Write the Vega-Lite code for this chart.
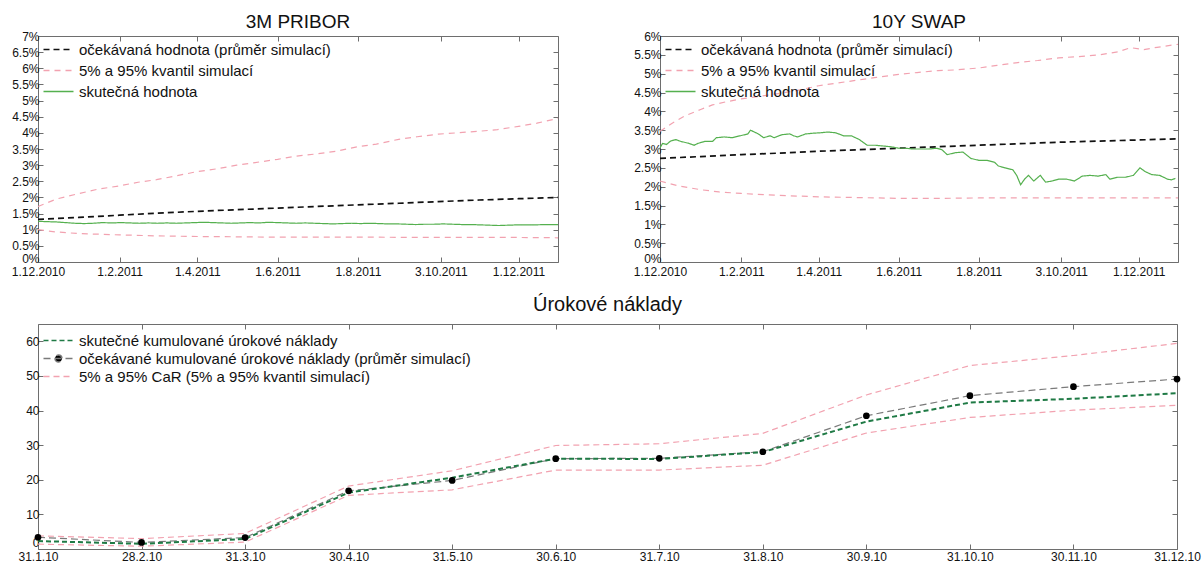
{
  "$schema": "https://vega.github.io/schema/vega-lite/v6.json",
  "padding": {"left": 10, "top": 12, "right": 5, "bottom": 0},
  "bounds": "full",
  "spacing": 16,
  "datasets": {
    "pribor": [
      {"d":"2010-12-01","s":"q","l":"up","v":1.72},{"d":"2010-12-15","s":"q","l":"up","v":1.95},{"d":"2011-01-01","s":"q","l":"up","v":2.12},{"d":"2011-01-15","s":"q","l":"up","v":2.25},{"d":"2011-02-01","s":"q","l":"up","v":2.36},{"d":"2011-02-15","s":"q","l":"up","v":2.47},{"d":"2011-03-01","s":"q","l":"up","v":2.55},{"d":"2011-03-15","s":"q","l":"up","v":2.66},{"d":"2011-04-01","s":"q","l":"up","v":2.8},{"d":"2011-04-15","s":"q","l":"up","v":2.88},{"d":"2011-05-01","s":"q","l":"up","v":3.0},{"d":"2011-05-15","s":"q","l":"up","v":3.08},{"d":"2011-06-01","s":"q","l":"up","v":3.18},{"d":"2011-06-15","s":"q","l":"up","v":3.28},{"d":"2011-07-01","s":"q","l":"up","v":3.35},{"d":"2011-07-15","s":"q","l":"up","v":3.43},{"d":"2011-08-01","s":"q","l":"up","v":3.57},{"d":"2011-08-15","s":"q","l":"up","v":3.65},{"d":"2011-09-01","s":"q","l":"up","v":3.8},{"d":"2011-09-15","s":"q","l":"up","v":3.88},{"d":"2011-10-01","s":"q","l":"up","v":3.96},{"d":"2011-10-15","s":"q","l":"up","v":4.0},{"d":"2011-11-01","s":"q","l":"up","v":4.05},{"d":"2011-11-15","s":"q","l":"up","v":4.1},{"d":"2011-12-01","s":"q","l":"up","v":4.2},{"d":"2011-12-15","s":"q","l":"up","v":4.3},{"d":"2011-12-31","s":"q","l":"up","v":4.45},
      {"d":"2010-12-01","s":"q","l":"lo","v":1.0},{"d":"2010-12-15","s":"q","l":"lo","v":0.93},{"d":"2011-01-01","s":"q","l":"lo","v":0.88},{"d":"2011-02-01","s":"q","l":"lo","v":0.84},{"d":"2011-03-01","s":"q","l":"lo","v":0.81},{"d":"2011-04-01","s":"q","l":"lo","v":0.79},{"d":"2011-05-01","s":"q","l":"lo","v":0.78},{"d":"2011-06-01","s":"q","l":"lo","v":0.77},{"d":"2011-08-01","s":"q","l":"lo","v":0.77},{"d":"2011-10-01","s":"q","l":"lo","v":0.76},{"d":"2011-12-01","s":"q","l":"lo","v":0.76},{"d":"2011-12-31","s":"q","l":"lo","v":0.75},
      {"d":"2010-12-01","s":"e","l":"e","v":1.32},{"d":"2011-01-01","s":"e","l":"e","v":1.38},{"d":"2011-02-01","s":"e","l":"e","v":1.45},{"d":"2011-03-01","s":"e","l":"e","v":1.51},{"d":"2011-04-01","s":"e","l":"e","v":1.57},{"d":"2011-05-01","s":"e","l":"e","v":1.62},{"d":"2011-06-01","s":"e","l":"e","v":1.67},{"d":"2011-07-01","s":"e","l":"e","v":1.72},{"d":"2011-08-01","s":"e","l":"e","v":1.77},{"d":"2011-09-01","s":"e","l":"e","v":1.82},{"d":"2011-10-01","s":"e","l":"e","v":1.87},{"d":"2011-11-01","s":"e","l":"e","v":1.92},{"d":"2011-12-01","s":"e","l":"e","v":1.96},{"d":"2011-12-31","s":"e","l":"e","v":2.0},
      {"d":"2010-12-01","s":"a","l":"a","v":1.26},{"d":"2010-12-08","s":"a","l":"a","v":1.25},{"d":"2010-12-15","s":"a","l":"a","v":1.24},{"d":"2010-12-22","s":"a","l":"a","v":1.22},{"d":"2010-12-29","s":"a","l":"a","v":1.2},{"d":"2011-01-05","s":"a","l":"a","v":1.19},{"d":"2011-01-12","s":"a","l":"a","v":1.2},{"d":"2011-01-19","s":"a","l":"a","v":1.22},{"d":"2011-01-26","s":"a","l":"a","v":1.21},{"d":"2011-02-02","s":"a","l":"a","v":1.22},{"d":"2011-02-09","s":"a","l":"a","v":1.21},{"d":"2011-02-16","s":"a","l":"a","v":1.2},{"d":"2011-02-23","s":"a","l":"a","v":1.21},{"d":"2011-03-02","s":"a","l":"a","v":1.2},{"d":"2011-03-09","s":"a","l":"a","v":1.21},{"d":"2011-03-16","s":"a","l":"a","v":1.2},{"d":"2011-03-23","s":"a","l":"a","v":1.21},{"d":"2011-03-30","s":"a","l":"a","v":1.22},{"d":"2011-04-06","s":"a","l":"a","v":1.23},{"d":"2011-04-13","s":"a","l":"a","v":1.22},{"d":"2011-04-20","s":"a","l":"a","v":1.21},{"d":"2011-04-27","s":"a","l":"a","v":1.2},{"d":"2011-05-04","s":"a","l":"a","v":1.21},{"d":"2011-05-11","s":"a","l":"a","v":1.22},{"d":"2011-05-18","s":"a","l":"a","v":1.21},{"d":"2011-05-25","s":"a","l":"a","v":1.23},{"d":"2011-06-01","s":"a","l":"a","v":1.22},{"d":"2011-06-08","s":"a","l":"a","v":1.21},{"d":"2011-06-15","s":"a","l":"a","v":1.2},{"d":"2011-06-22","s":"a","l":"a","v":1.21},{"d":"2011-06-29","s":"a","l":"a","v":1.2},{"d":"2011-07-06","s":"a","l":"a","v":1.19},{"d":"2011-07-13","s":"a","l":"a","v":1.18},{"d":"2011-07-20","s":"a","l":"a","v":1.19},{"d":"2011-07-27","s":"a","l":"a","v":1.2},{"d":"2011-08-03","s":"a","l":"a","v":1.19},{"d":"2011-08-10","s":"a","l":"a","v":1.2},{"d":"2011-08-17","s":"a","l":"a","v":1.19},{"d":"2011-08-24","s":"a","l":"a","v":1.18},{"d":"2011-08-31","s":"a","l":"a","v":1.18},{"d":"2011-09-07","s":"a","l":"a","v":1.17},{"d":"2011-09-14","s":"a","l":"a","v":1.16},{"d":"2011-09-21","s":"a","l":"a","v":1.17},{"d":"2011-09-28","s":"a","l":"a","v":1.17},{"d":"2011-10-05","s":"a","l":"a","v":1.18},{"d":"2011-10-12","s":"a","l":"a","v":1.17},{"d":"2011-10-19","s":"a","l":"a","v":1.16},{"d":"2011-10-26","s":"a","l":"a","v":1.16},{"d":"2011-11-02","s":"a","l":"a","v":1.15},{"d":"2011-11-09","s":"a","l":"a","v":1.14},{"d":"2011-11-16","s":"a","l":"a","v":1.13},{"d":"2011-11-23","s":"a","l":"a","v":1.14},{"d":"2011-11-30","s":"a","l":"a","v":1.15},{"d":"2011-12-07","s":"a","l":"a","v":1.15},{"d":"2011-12-14","s":"a","l":"a","v":1.15},{"d":"2011-12-21","s":"a","l":"a","v":1.16},{"d":"2011-12-31","s":"a","l":"a","v":1.16}
    ],
    "swap": [
      {"d":"2010-12-01","s":"q","l":"up","v":3.47},{"d":"2010-12-10","s":"q","l":"up","v":3.68},{"d":"2010-12-20","s":"q","l":"up","v":3.88},{"d":"2011-01-01","s":"q","l":"up","v":4.05},{"d":"2011-01-10","s":"q","l":"up","v":4.17},{"d":"2011-01-20","s":"q","l":"up","v":4.25},{"d":"2011-02-01","s":"q","l":"up","v":4.33},{"d":"2011-02-15","s":"q","l":"up","v":4.4},{"d":"2011-03-01","s":"q","l":"up","v":4.47},{"d":"2011-03-15","s":"q","l":"up","v":4.55},{"d":"2011-04-01","s":"q","l":"up","v":4.68},{"d":"2011-04-15","s":"q","l":"up","v":4.75},{"d":"2011-05-01","s":"q","l":"up","v":4.83},{"d":"2011-05-15","s":"q","l":"up","v":4.9},{"d":"2011-06-01","s":"q","l":"up","v":4.98},{"d":"2011-06-15","s":"q","l":"up","v":5.03},{"d":"2011-07-01","s":"q","l":"up","v":5.08},{"d":"2011-07-15","s":"q","l":"up","v":5.1},{"d":"2011-08-01","s":"q","l":"up","v":5.15},{"d":"2011-08-15","s":"q","l":"up","v":5.22},{"d":"2011-09-01","s":"q","l":"up","v":5.3},{"d":"2011-09-15","s":"q","l":"up","v":5.35},{"d":"2011-10-01","s":"q","l":"up","v":5.42},{"d":"2011-10-15","s":"q","l":"up","v":5.45},{"d":"2011-11-01","s":"q","l":"up","v":5.5},{"d":"2011-11-15","s":"q","l":"up","v":5.58},{"d":"2011-11-25","s":"q","l":"up","v":5.69},{"d":"2011-12-05","s":"q","l":"up","v":5.64},{"d":"2011-12-15","s":"q","l":"up","v":5.7},{"d":"2011-12-31","s":"q","l":"up","v":5.78},
      {"d":"2010-12-01","s":"q","l":"lo","v":2.15},{"d":"2010-12-15","s":"q","l":"lo","v":2.02},{"d":"2011-01-01","s":"q","l":"lo","v":1.92},{"d":"2011-01-15","s":"q","l":"lo","v":1.86},{"d":"2011-02-01","s":"q","l":"lo","v":1.82},{"d":"2011-03-01","s":"q","l":"lo","v":1.77},{"d":"2011-04-01","s":"q","l":"lo","v":1.73},{"d":"2011-05-01","s":"q","l":"lo","v":1.71},{"d":"2011-06-01","s":"q","l":"lo","v":1.69},{"d":"2011-07-01","s":"q","l":"lo","v":1.69},{"d":"2011-08-01","s":"q","l":"lo","v":1.7},{"d":"2011-09-01","s":"q","l":"lo","v":1.7},{"d":"2011-10-01","s":"q","l":"lo","v":1.7},{"d":"2011-11-01","s":"q","l":"lo","v":1.7},{"d":"2011-12-01","s":"q","l":"lo","v":1.7},{"d":"2011-12-31","s":"q","l":"lo","v":1.7},
      {"d":"2010-12-01","s":"e","l":"e","v":2.75},{"d":"2011-01-01","s":"e","l":"e","v":2.8},{"d":"2011-02-01","s":"e","l":"e","v":2.85},{"d":"2011-03-01","s":"e","l":"e","v":2.89},{"d":"2011-04-01","s":"e","l":"e","v":2.94},{"d":"2011-05-01","s":"e","l":"e","v":2.98},{"d":"2011-06-01","s":"e","l":"e","v":3.02},{"d":"2011-07-01","s":"e","l":"e","v":3.06},{"d":"2011-08-01","s":"e","l":"e","v":3.1},{"d":"2011-09-01","s":"e","l":"e","v":3.14},{"d":"2011-10-01","s":"e","l":"e","v":3.18},{"d":"2011-11-01","s":"e","l":"e","v":3.21},{"d":"2011-12-01","s":"e","l":"e","v":3.24},{"d":"2011-12-31","s":"e","l":"e","v":3.27},
      {"d":"2010-12-01","s":"a","l":"a","v":3.03},{"d":"2010-12-03","s":"a","l":"a","v":3.15},{"d":"2010-12-06","s":"a","l":"a","v":3.12},{"d":"2010-12-09","s":"a","l":"a","v":3.21},{"d":"2010-12-13","s":"a","l":"a","v":3.25},{"d":"2010-12-17","s":"a","l":"a","v":3.2},{"d":"2010-12-23","s":"a","l":"a","v":3.15},{"d":"2010-12-27","s":"a","l":"a","v":3.1},{"d":"2010-12-30","s":"a","l":"a","v":3.15},{"d":"2011-01-04","s":"a","l":"a","v":3.2},{"d":"2011-01-10","s":"a","l":"a","v":3.2},{"d":"2011-01-13","s":"a","l":"a","v":3.3},{"d":"2011-01-19","s":"a","l":"a","v":3.32},{"d":"2011-01-25","s":"a","l":"a","v":3.3},{"d":"2011-01-31","s":"a","l":"a","v":3.35},{"d":"2011-02-06","s":"a","l":"a","v":3.4},{"d":"2011-02-08","s":"a","l":"a","v":3.5},{"d":"2011-02-11","s":"a","l":"a","v":3.45},{"d":"2011-02-14","s":"a","l":"a","v":3.4},{"d":"2011-02-18","s":"a","l":"a","v":3.3},{"d":"2011-02-23","s":"a","l":"a","v":3.35},{"d":"2011-02-26","s":"a","l":"a","v":3.3},{"d":"2011-03-04","s":"a","l":"a","v":3.38},{"d":"2011-03-10","s":"a","l":"a","v":3.4},{"d":"2011-03-13","s":"a","l":"a","v":3.35},{"d":"2011-03-16","s":"a","l":"a","v":3.32},{"d":"2011-03-22","s":"a","l":"a","v":3.4},{"d":"2011-03-28","s":"a","l":"a","v":3.42},{"d":"2011-04-02","s":"a","l":"a","v":3.43},{"d":"2011-04-08","s":"a","l":"a","v":3.45},{"d":"2011-04-14","s":"a","l":"a","v":3.43},{"d":"2011-04-20","s":"a","l":"a","v":3.35},{"d":"2011-04-26","s":"a","l":"a","v":3.35},{"d":"2011-05-02","s":"a","l":"a","v":3.25},{"d":"2011-05-08","s":"a","l":"a","v":3.1},{"d":"2011-05-14","s":"a","l":"a","v":3.1},{"d":"2011-05-20","s":"a","l":"a","v":3.08},{"d":"2011-05-26","s":"a","l":"a","v":3.06},{"d":"2011-06-01","s":"a","l":"a","v":3.02},{"d":"2011-06-06","s":"a","l":"a","v":3.02},{"d":"2011-06-12","s":"a","l":"a","v":3.0},{"d":"2011-06-18","s":"a","l":"a","v":3.0},{"d":"2011-06-24","s":"a","l":"a","v":3.0},{"d":"2011-06-30","s":"a","l":"a","v":3.02},{"d":"2011-07-04","s":"a","l":"a","v":2.98},{"d":"2011-07-08","s":"a","l":"a","v":2.85},{"d":"2011-07-14","s":"a","l":"a","v":2.9},{"d":"2011-07-20","s":"a","l":"a","v":2.92},{"d":"2011-07-26","s":"a","l":"a","v":2.75},{"d":"2011-08-01","s":"a","l":"a","v":2.7},{"d":"2011-08-07","s":"a","l":"a","v":2.7},{"d":"2011-08-13","s":"a","l":"a","v":2.65},{"d":"2011-08-16","s":"a","l":"a","v":2.55},{"d":"2011-08-21","s":"a","l":"a","v":2.5},{"d":"2011-08-27","s":"a","l":"a","v":2.45},{"d":"2011-08-30","s":"a","l":"a","v":2.3},{"d":"2011-09-02","s":"a","l":"a","v":2.05},{"d":"2011-09-05","s":"a","l":"a","v":2.2},{"d":"2011-09-08","s":"a","l":"a","v":2.3},{"d":"2011-09-12","s":"a","l":"a","v":2.15},{"d":"2011-09-17","s":"a","l":"a","v":2.3},{"d":"2011-09-21","s":"a","l":"a","v":2.12},{"d":"2011-09-26","s":"a","l":"a","v":2.15},{"d":"2011-10-01","s":"a","l":"a","v":2.2},{"d":"2011-10-07","s":"a","l":"a","v":2.2},{"d":"2011-10-13","s":"a","l":"a","v":2.15},{"d":"2011-10-19","s":"a","l":"a","v":2.28},{"d":"2011-10-25","s":"a","l":"a","v":2.3},{"d":"2011-10-31","s":"a","l":"a","v":2.28},{"d":"2011-11-06","s":"a","l":"a","v":2.32},{"d":"2011-11-09","s":"a","l":"a","v":2.2},{"d":"2011-11-15","s":"a","l":"a","v":2.25},{"d":"2011-11-21","s":"a","l":"a","v":2.25},{"d":"2011-11-27","s":"a","l":"a","v":2.3},{"d":"2011-12-02","s":"a","l":"a","v":2.5},{"d":"2011-12-06","s":"a","l":"a","v":2.4},{"d":"2011-12-11","s":"a","l":"a","v":2.32},{"d":"2011-12-17","s":"a","l":"a","v":2.3},{"d":"2011-12-23","s":"a","l":"a","v":2.2},{"d":"2011-12-26","s":"a","l":"a","v":2.18},{"d":"2011-12-29","s":"a","l":"a","v":2.22}
    ],
    "naklady": [
      {"m":"31.1.10","s":"q","l":"up","v":3.8},{"m":"28.2.10","s":"q","l":"up","v":3.0},{"m":"31.3.10","s":"q","l":"up","v":4.5},{"m":"30.4.10","s":"q","l":"up","v":18.2},{"m":"31.5.10","s":"q","l":"up","v":22.6},{"m":"30.6.10","s":"q","l":"up","v":29.9},{"m":"31.7.10","s":"q","l":"up","v":30.4},{"m":"31.8.10","s":"q","l":"up","v":33.4},{"m":"30.9.10","s":"q","l":"up","v":44.5},{"m":"31.10.10","s":"q","l":"up","v":53.0},{"m":"30.11.10","s":"q","l":"up","v":55.9},{"m":"31.12.10","s":"q","l":"up","v":59.4},
      {"m":"31.1.10","s":"q","l":"lo","v":1.4},{"m":"28.2.10","s":"q","l":"lo","v":0.8},{"m":"31.3.10","s":"q","l":"lo","v":2.0},{"m":"30.4.10","s":"q","l":"lo","v":15.5},{"m":"31.5.10","s":"q","l":"lo","v":17.1},{"m":"30.6.10","s":"q","l":"lo","v":22.8},{"m":"31.7.10","s":"q","l":"lo","v":22.8},{"m":"31.8.10","s":"q","l":"lo","v":24.2},{"m":"30.9.10","s":"q","l":"lo","v":33.5},{"m":"31.10.10","s":"q","l":"lo","v":38.0},{"m":"30.11.10","s":"q","l":"lo","v":40.1},{"m":"31.12.10","s":"q","l":"lo","v":41.5},
      {"m":"31.1.10","s":"a","l":"a","v":2.3},{"m":"28.2.10","s":"a","l":"a","v":1.5},{"m":"31.3.10","s":"a","l":"a","v":2.9},{"m":"30.4.10","s":"a","l":"a","v":16.3},{"m":"31.5.10","s":"a","l":"a","v":20.6},{"m":"30.6.10","s":"a","l":"a","v":26.1},{"m":"31.7.10","s":"a","l":"a","v":26.0},{"m":"31.8.10","s":"a","l":"a","v":28.0},{"m":"30.9.10","s":"a","l":"a","v":36.8},{"m":"31.10.10","s":"a","l":"a","v":42.3},{"m":"30.11.10","s":"a","l":"a","v":43.4},{"m":"31.12.10","s":"a","l":"a","v":45.0},
      {"m":"31.1.10","s":"e","l":"e","v":3.4},{"m":"28.2.10","s":"e","l":"e","v":1.9},{"m":"31.3.10","s":"e","l":"e","v":3.3},{"m":"30.4.10","s":"e","l":"e","v":16.8},{"m":"31.5.10","s":"e","l":"e","v":19.8},{"m":"30.6.10","s":"e","l":"e","v":26.1},{"m":"31.7.10","s":"e","l":"e","v":26.2},{"m":"31.8.10","s":"e","l":"e","v":28.1},{"m":"30.9.10","s":"e","l":"e","v":38.5},{"m":"31.10.10","s":"e","l":"e","v":44.3},{"m":"30.11.10","s":"e","l":"e","v":46.9},{"m":"31.12.10","s":"e","l":"e","v":49.1}
    ]
  },
  "vconcat": [
    {
      "bounds": "flush",
      "spacing": 102,
      "hconcat": [
        {
          "width": 520, "height": 226,
          "title": {"text": "3M PRIBOR"},
          "data": {"name": "pribor"},
          "layer": [
            {"transform": [{"filter": "datum.s === 'q'"}], "mark": {"type": "line", "strokeWidth": 1.2},
             "encoding": {
               "x": {"field": "d", "type": "temporal", "scale": {"type": "utc", "domain": [{"year":2010,"month":12,"date":1,"utc":true},{"year":2011,"month":12,"date":31,"utc":true}]}, "axis": {"orient": "bottom", "labelPadding": 9, "format": "%-d.%-m.%Y", "values": [{"year":2010,"month":12,"date":1,"utc":true},{"year":2011,"month":2,"date":1,"utc":true},{"year":2011,"month":4,"date":1,"utc":true},{"year":2011,"month":6,"date":1,"utc":true},{"year":2011,"month":8,"date":1,"utc":true},{"year":2011,"month":10,"date":3,"utc":true},{"year":2011,"month":12,"date":1,"utc":true}]}},
               "y": {"field": "v", "type": "quantitative", "scale": {"domain": [0, 7]}, "axis": {"orient": "left", "values": [0,0.5,1,1.5,2,2.5,3,3.5,4,4.5,5,5.5,6,6.5,7], "labelExpr": "datum.value + '%'", "labelBaseline": {"condition": {"test": "datum.value === 0", "value": "alphabetic"}, "value": "middle"}}},
               "color": {"field": "s", "type": "nominal", "scale": {"domain": ["e","q","a"], "range": ["#111111","#f2a2b0","#55b04f"]}, "legend": {"title": null, "orient": "none", "legendX": 3, "legendY": 6, "rowPadding": 5, "labelExpr": "datum.value === 'e' ? 'očekávaná hodnota (průměr simulací)' : datum.value === 'q' ? '5% a 95% kvantil simulací' : 'skutečná hodnota'"}},
               "strokeDash": {"field": "s", "type": "nominal", "scale": {"domain": ["e","q","a"], "range": [[6,4],[6,5],[1,0]]}, "legend": {"title": null, "orient": "none", "legendX": 3, "legendY": 6, "rowPadding": 5, "labelExpr": "datum.value === 'e' ? 'očekávaná hodnota (průměr simulací)' : datum.value === 'q' ? '5% a 95% kvantil simulací' : 'skutečná hodnota'"}},
               "detail": {"field": "l"}
             }},
            {"transform": [{"filter": "datum.s === 'e'"}], "mark": {"type": "line", "strokeWidth": 1.7},
             "encoding": {
               "x": {"field": "d", "type": "temporal", "axis": null},
               "y": {"field": "v", "type": "quantitative", "axis": null},
               "color": {"field": "s", "type": "nominal", "scale": {"domain": ["e","q","a"], "range": ["#111111","#f2a2b0","#55b04f"]}, "legend": {"title": null, "orient": "none", "legendX": 3, "legendY": 6, "rowPadding": 5, "labelExpr": "datum.value === 'e' ? 'očekávaná hodnota (průměr simulací)' : datum.value === 'q' ? '5% a 95% kvantil simulací' : 'skutečná hodnota'"}},
               "strokeDash": {"field": "s", "type": "nominal", "scale": {"domain": ["e","q","a"], "range": [[6,4],[6,5],[1,0]]}, "legend": {"title": null, "orient": "none", "legendX": 3, "legendY": 6, "rowPadding": 5, "labelExpr": "datum.value === 'e' ? 'očekávaná hodnota (průměr simulací)' : datum.value === 'q' ? '5% a 95% kvantil simulací' : 'skutečná hodnota'"}}
             }},
            {"transform": [{"filter": "datum.s === 'a'"}], "mark": {"type": "line", "strokeWidth": 1.2},
             "encoding": {
               "x": {"field": "d", "type": "temporal", "axis": null},
               "y": {"field": "v", "type": "quantitative", "axis": null},
               "color": {"field": "s", "type": "nominal", "scale": {"domain": ["e","q","a"], "range": ["#111111","#f2a2b0","#55b04f"]}, "legend": {"title": null, "orient": "none", "legendX": 3, "legendY": 6, "rowPadding": 5, "labelExpr": "datum.value === 'e' ? 'očekávaná hodnota (průměr simulací)' : datum.value === 'q' ? '5% a 95% kvantil simulací' : 'skutečná hodnota'"}},
               "strokeDash": {"field": "s", "type": "nominal", "scale": {"domain": ["e","q","a"], "range": [[6,4],[6,5],[1,0]]}, "legend": {"title": null, "orient": "none", "legendX": 3, "legendY": 6, "rowPadding": 5, "labelExpr": "datum.value === 'e' ? 'očekávaná hodnota (průměr simulací)' : datum.value === 'q' ? '5% a 95% kvantil simulací' : 'skutečná hodnota'"}}
             }},
            {"mark": {"type": "line", "opacity": 0},
             "encoding": {
               "x": {"field": "d", "type": "temporal", "axis": {"orient": "top", "labels": false, "values": [{"year":2010,"month":12,"date":1,"utc":true},{"year":2011,"month":2,"date":1,"utc":true},{"year":2011,"month":4,"date":1,"utc":true},{"year":2011,"month":6,"date":1,"utc":true},{"year":2011,"month":8,"date":1,"utc":true},{"year":2011,"month":10,"date":3,"utc":true},{"year":2011,"month":12,"date":1,"utc":true}]}},
               "y": {"field": "v", "type": "quantitative", "axis": {"orient": "right", "labels": false, "values": [0,0.5,1,1.5,2,2.5,3,3.5,4,4.5,5,5.5,6,6.5,7]}},
               "detail": {"field": "l"}
             }}
          ],
          "resolve": {"axis": {"x": "independent", "y": "independent"}}
        },
        {
          "width": 518, "height": 226,
          "title": {"text": "10Y SWAP"},
          "data": {"name": "swap"},
          "layer": [
            {"transform": [{"filter": "datum.s === 'q'"}], "mark": {"type": "line", "strokeWidth": 1.2},
             "encoding": {
               "x": {"field": "d", "type": "temporal", "scale": {"type": "utc", "domain": [{"year":2010,"month":12,"date":1,"utc":true},{"year":2011,"month":12,"date":31,"utc":true}]}, "axis": {"orient": "bottom", "labelPadding": 9, "format": "%-d.%-m.%Y", "values": [{"year":2010,"month":12,"date":1,"utc":true},{"year":2011,"month":2,"date":1,"utc":true},{"year":2011,"month":4,"date":1,"utc":true},{"year":2011,"month":6,"date":1,"utc":true},{"year":2011,"month":8,"date":1,"utc":true},{"year":2011,"month":10,"date":3,"utc":true},{"year":2011,"month":12,"date":1,"utc":true}]}},
               "y": {"field": "v", "type": "quantitative", "scale": {"domain": [0, 6]}, "axis": {"orient": "left", "values": [0,0.5,1,1.5,2,2.5,3,3.5,4,4.5,5,5.5,6], "labelExpr": "datum.value + '%'", "labelBaseline": {"condition": {"test": "datum.value === 0", "value": "alphabetic"}, "value": "middle"}}},
               "color": {"field": "s", "type": "nominal", "scale": {"domain": ["e","q","a"], "range": ["#111111","#f2a2b0","#55b04f"]}, "legend": {"title": null, "orient": "none", "legendX": 3, "legendY": 6, "rowPadding": 5, "labelExpr": "datum.value === 'e' ? 'očekávaná hodnota (průměr simulací)' : datum.value === 'q' ? '5% a 95% kvantil simulací' : 'skutečná hodnota'"}},
               "strokeDash": {"field": "s", "type": "nominal", "scale": {"domain": ["e","q","a"], "range": [[6,4],[6,5],[1,0]]}, "legend": {"title": null, "orient": "none", "legendX": 3, "legendY": 6, "rowPadding": 5, "labelExpr": "datum.value === 'e' ? 'očekávaná hodnota (průměr simulací)' : datum.value === 'q' ? '5% a 95% kvantil simulací' : 'skutečná hodnota'"}},
               "detail": {"field": "l"}
             }},
            {"transform": [{"filter": "datum.s === 'e'"}], "mark": {"type": "line", "strokeWidth": 1.7},
             "encoding": {
               "x": {"field": "d", "type": "temporal", "axis": null},
               "y": {"field": "v", "type": "quantitative", "axis": null},
               "color": {"field": "s", "type": "nominal", "scale": {"domain": ["e","q","a"], "range": ["#111111","#f2a2b0","#55b04f"]}, "legend": {"title": null, "orient": "none", "legendX": 3, "legendY": 6, "rowPadding": 5, "labelExpr": "datum.value === 'e' ? 'očekávaná hodnota (průměr simulací)' : datum.value === 'q' ? '5% a 95% kvantil simulací' : 'skutečná hodnota'"}},
               "strokeDash": {"field": "s", "type": "nominal", "scale": {"domain": ["e","q","a"], "range": [[6,4],[6,5],[1,0]]}, "legend": {"title": null, "orient": "none", "legendX": 3, "legendY": 6, "rowPadding": 5, "labelExpr": "datum.value === 'e' ? 'očekávaná hodnota (průměr simulací)' : datum.value === 'q' ? '5% a 95% kvantil simulací' : 'skutečná hodnota'"}}
             }},
            {"transform": [{"filter": "datum.s === 'a'"}], "mark": {"type": "line", "strokeWidth": 1.2},
             "encoding": {
               "x": {"field": "d", "type": "temporal", "axis": null},
               "y": {"field": "v", "type": "quantitative", "axis": null},
               "color": {"field": "s", "type": "nominal", "scale": {"domain": ["e","q","a"], "range": ["#111111","#f2a2b0","#55b04f"]}, "legend": {"title": null, "orient": "none", "legendX": 3, "legendY": 6, "rowPadding": 5, "labelExpr": "datum.value === 'e' ? 'očekávaná hodnota (průměr simulací)' : datum.value === 'q' ? '5% a 95% kvantil simulací' : 'skutečná hodnota'"}},
               "strokeDash": {"field": "s", "type": "nominal", "scale": {"domain": ["e","q","a"], "range": [[6,4],[6,5],[1,0]]}, "legend": {"title": null, "orient": "none", "legendX": 3, "legendY": 6, "rowPadding": 5, "labelExpr": "datum.value === 'e' ? 'očekávaná hodnota (průměr simulací)' : datum.value === 'q' ? '5% a 95% kvantil simulací' : 'skutečná hodnota'"}}
             }},
            {"mark": {"type": "line", "opacity": 0},
             "encoding": {
               "x": {"field": "d", "type": "temporal", "axis": {"orient": "top", "labels": false, "values": [{"year":2010,"month":12,"date":1,"utc":true},{"year":2011,"month":2,"date":1,"utc":true},{"year":2011,"month":4,"date":1,"utc":true},{"year":2011,"month":6,"date":1,"utc":true},{"year":2011,"month":8,"date":1,"utc":true},{"year":2011,"month":10,"date":3,"utc":true},{"year":2011,"month":12,"date":1,"utc":true}]}},
               "y": {"field": "v", "type": "quantitative", "axis": {"orient": "right", "labels": false, "values": [0,0.5,1,1.5,2,2.5,3,3.5,4,4.5,5,5.5,6]}},
               "detail": {"field": "l"}
             }}
          ],
          "resolve": {"axis": {"x": "independent", "y": "independent"}}
        }
      ],
      "resolve": {"scale": {"x": "independent", "y": "independent", "color": "independent", "strokeDash": "independent"}, "legend": {"color": "independent", "strokeDash": "independent"}}
    },
    {
      "width": 1139, "height": 225,
      "title": {"text": "Úrokové náklady", "fontSize": 20, "offset": 9, "dy": 0},
      "data": {"name": "naklady"},
      "layer": [
        {"transform": [{"filter": "datum.s === 'q'"}], "mark": {"type": "line", "strokeWidth": 1.2},
         "encoding": {
           "x": {"field": "m", "type": "ordinal", "sort": null, "scale": {"type": "point", "padding": 0, "domain": ["31.1.10","28.2.10","31.3.10","30.4.10","31.5.10","30.6.10","31.7.10","31.8.10","30.9.10","31.10.10","30.11.10","31.12.10"]}, "axis": {"orient": "bottom", "labelAngle": 0, "labelPadding": 7}},
           "y": {"field": "v", "type": "quantitative", "scale": {"domain": [0, 65]}, "axis": {"orient": "left", "values": [0,10,20,30,40,50,60], "labelFlush": true}},
           "color": {"field": "s", "type": "nominal", "scale": {"domain": ["a","e","q"], "range": ["#1f7a45","#7a7a7a","#f2a2b0"]}, "legend": {"title": null, "orient": "none", "legendX": 3, "legendY": 9, "rowPadding": 2, "labelExpr": "datum.value === 'a' ? 'skutečné kumulované úrokové náklady' : datum.value === 'e' ? 'očekávané kumulované úrokové náklady (průměr simulací)' : '5% a 95% CaR (5% a 95% kvantil simulací)'", "encode": {"symbols": {"update": {"shape": {"signal": "datum.value === 'e' ? 'M-1,0L5,0M1.3,0a0.7,0.7 0 1,0 1.4,0a0.7,0.7 0 1,0 -1.4,0' : 'M-1,0L5,0'"}, "fill": {"signal": "datum.value === 'e' ? 'black' : 'transparent'"}}}}}},
           "strokeDash": {"field": "s", "type": "nominal", "scale": {"domain": ["a","e","q"], "range": [[5,3],[7,4],[6,4]]}, "legend": {"title": null, "orient": "none", "legendX": 3, "legendY": 9, "rowPadding": 2, "labelExpr": "datum.value === 'a' ? 'skutečné kumulované úrokové náklady' : datum.value === 'e' ? 'očekávané kumulované úrokové náklady (průměr simulací)' : '5% a 95% CaR (5% a 95% kvantil simulací)'", "encode": {"symbols": {"update": {"shape": {"signal": "datum.value === 'e' ? 'M-1,0L5,0M1.3,0a0.7,0.7 0 1,0 1.4,0a0.7,0.7 0 1,0 -1.4,0' : 'M-1,0L5,0'"}, "fill": {"signal": "datum.value === 'e' ? 'black' : 'transparent'"}}}}}},
           "detail": {"field": "l"}
         }},
        {"transform": [{"filter": "datum.s === 'e'"}], "mark": {"type": "line", "strokeWidth": 1.2},
         "encoding": {
           "x": {"field": "m", "type": "ordinal", "sort": null, "axis": null},
           "y": {"field": "v", "type": "quantitative", "axis": null},
           "color": {"field": "s", "type": "nominal", "scale": {"domain": ["a","e","q"], "range": ["#1f7a45","#7a7a7a","#f2a2b0"]}, "legend": {"title": null, "orient": "none", "legendX": 3, "legendY": 9, "rowPadding": 2, "labelExpr": "datum.value === 'a' ? 'skutečné kumulované úrokové náklady' : datum.value === 'e' ? 'očekávané kumulované úrokové náklady (průměr simulací)' : '5% a 95% CaR (5% a 95% kvantil simulací)'", "encode": {"symbols": {"update": {"shape": {"signal": "datum.value === 'e' ? 'M-1,0L5,0M1.3,0a0.7,0.7 0 1,0 1.4,0a0.7,0.7 0 1,0 -1.4,0' : 'M-1,0L5,0'"}, "fill": {"signal": "datum.value === 'e' ? 'black' : 'transparent'"}}}}}},
           "strokeDash": {"field": "s", "type": "nominal", "scale": {"domain": ["a","e","q"], "range": [[5,3],[7,4],[6,4]]}, "legend": {"title": null, "orient": "none", "legendX": 3, "legendY": 9, "rowPadding": 2, "labelExpr": "datum.value === 'a' ? 'skutečné kumulované úrokové náklady' : datum.value === 'e' ? 'očekávané kumulované úrokové náklady (průměr simulací)' : '5% a 95% CaR (5% a 95% kvantil simulací)'", "encode": {"symbols": {"update": {"shape": {"signal": "datum.value === 'e' ? 'M-1,0L5,0M1.3,0a0.7,0.7 0 1,0 1.4,0a0.7,0.7 0 1,0 -1.4,0' : 'M-1,0L5,0'"}, "fill": {"signal": "datum.value === 'e' ? 'black' : 'transparent'"}}}}}}
         }},
        {"transform": [{"filter": "datum.s === 'a'"}], "mark": {"type": "line", "strokeWidth": 2},
         "encoding": {
           "x": {"field": "m", "type": "ordinal", "sort": null, "axis": null},
           "y": {"field": "v", "type": "quantitative", "axis": null},
           "color": {"field": "s", "type": "nominal", "scale": {"domain": ["a","e","q"], "range": ["#1f7a45","#7a7a7a","#f2a2b0"]}, "legend": {"title": null, "orient": "none", "legendX": 3, "legendY": 9, "rowPadding": 2, "labelExpr": "datum.value === 'a' ? 'skutečné kumulované úrokové náklady' : datum.value === 'e' ? 'očekávané kumulované úrokové náklady (průměr simulací)' : '5% a 95% CaR (5% a 95% kvantil simulací)'", "encode": {"symbols": {"update": {"shape": {"signal": "datum.value === 'e' ? 'M-1,0L5,0M1.3,0a0.7,0.7 0 1,0 1.4,0a0.7,0.7 0 1,0 -1.4,0' : 'M-1,0L5,0'"}, "fill": {"signal": "datum.value === 'e' ? 'black' : 'transparent'"}}}}}},
           "strokeDash": {"field": "s", "type": "nominal", "scale": {"domain": ["a","e","q"], "range": [[5,3],[7,4],[6,4]]}, "legend": {"title": null, "orient": "none", "legendX": 3, "legendY": 9, "rowPadding": 2, "labelExpr": "datum.value === 'a' ? 'skutečné kumulované úrokové náklady' : datum.value === 'e' ? 'očekávané kumulované úrokové náklady (průměr simulací)' : '5% a 95% CaR (5% a 95% kvantil simulací)'", "encode": {"symbols": {"update": {"shape": {"signal": "datum.value === 'e' ? 'M-1,0L5,0M1.3,0a0.7,0.7 0 1,0 1.4,0a0.7,0.7 0 1,0 -1.4,0' : 'M-1,0L5,0'"}, "fill": {"signal": "datum.value === 'e' ? 'black' : 'transparent'"}}}}}}
         }},
        {"transform": [{"filter": "datum.s === 'e'"}], "mark": {"type": "point", "filled": true, "color": "#000000", "size": 45, "opacity": 1},
         "encoding": {
           "x": {"field": "m", "type": "ordinal", "sort": null, "axis": null},
           "y": {"field": "v", "type": "quantitative", "axis": null}
         }},
        {"mark": {"type": "line", "opacity": 0},
         "encoding": {
           "x": {"field": "m", "type": "ordinal", "sort": null, "axis": {"orient": "top", "labels": false}},
           "y": {"field": "v", "type": "quantitative", "axis": {"orient": "right", "labels": false, "values": [0,10,20,30,40,50,60]}},
           "detail": {"field": "l"}
         }}
      ],
      "resolve": {"axis": {"x": "independent", "y": "independent"}}
    }
  ],
  "resolve": {"scale": {"x": "independent", "y": "independent", "color": "independent", "strokeDash": "independent"}, "legend": {"color": "independent", "strokeDash": "independent"}},
  "config": {
    "background": "white",
    "font": "Liberation Sans",
    "view": {"stroke": "#6e6e6e", "strokeWidth": 1},
    "axis": {"labelFont": "Liberation Sans", "labelFontSize": 12, "labelColor": "#111111", "tickColor": "#6e6e6e", "tickSize": -5, "domain": false, "grid": false, "title": null, "labelPadding": 4, "labelOverlap": false, "labelFlush": false},
    "title": {"font": "Liberation Sans", "fontSize": 19, "fontWeight": "normal", "color": "#111111", "anchor": "middle", "offset": 2, "dy": 4},
    "legend": {"labelFont": "Liberation Sans", "labelFontSize": 15, "labelColor": "#111111", "symbolType": "M-1,0L5,0", "symbolSize": 100, "symbolStrokeWidth": 1.5, "labelOffset": 23, "rowPadding": 4, "padding": 0, "labelLimit": 600}
  }
}
